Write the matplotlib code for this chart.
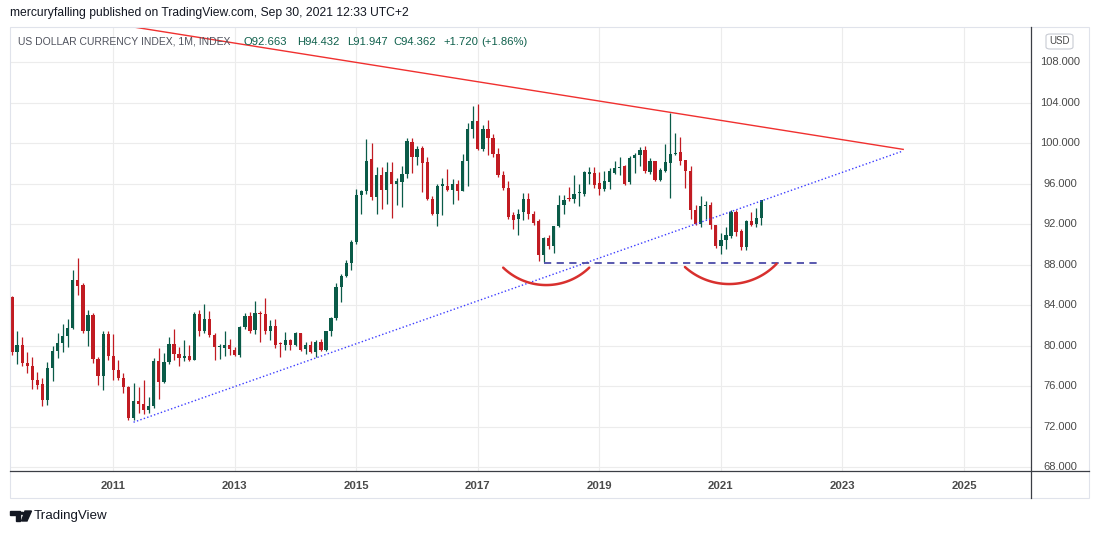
import numpy as np
import pandas as pd
import matplotlib
matplotlib.use('Agg')
import matplotlib.pyplot as plt
from matplotlib.patches import Rectangle, Circle, Polygon, FancyBboxPatch
from matplotlib.lines import Line2D

plt.rcParams['font.family'] = ['Liberation Sans', 'DejaVu Sans']

# monthly DXY candles, May 2009 .. Sep 2021
months = pd.date_range('2009-05-01', periods=149, freq='MS')

opens = [
    84.8, 79.4, 80.1, 78.3, 78.05, 76.6, 76.2, 74.6,
    77.8, 79.5, 80.3, 81.0, 81.8, 86.5, 86.0, 81.5, 83.0, 78.7, 77.0, 81.2,
    79.0, 77.6, 76.8, 75.9, 72.9, 74.5, 74.3, 73.7, 74.05, 78.5, 76.4, 78.4,
    80.2, 79.2, 78.8, 79.0, 78.6, 83.1, 81.5, 82.6, 81.1, 79.85, 79.75, 80.1,
    79.6, 79.1, 81.9, 82.9, 81.6, 83.2, 83.1, 81.5, 82.0, 80.3, 80.1, 80.55,
    80.05, 81.27, 79.7, 80.05, 79.4, 80.4, 79.6, 81.47, 82.7, 85.8, 86.9, 88.2,
    90.25, 94.86, 95.3, 98.4, 94.7, 96.84, 95.4, 97.2, 95.95, 96.2, 96.94, 100.1,
    98.65, 99.54, 98.2, 94.5, 93.0, 95.75, 95.8, 95.36, 95.95, 95.3, 98.3, 101.45,
    102.2, 99.4, 101.4, 100.5, 98.9, 96.84, 95.6, 92.9, 92.5, 93.2, 94.53, 93.0,
    92.3, 89.0, 90.65, 89.86, 91.8, 93.88, 94.55, 94.54, 95.1, 94.96, 96.97, 97.1,
    96.1, 95.46, 96.18, 97.1, 97.6, 97.73, 96.18, 98.55, 98.8, 99.37, 97.17, 98.22,
    96.4, 97.27, 98.06, 98.9, 99.14, 98.32, 97.27, 93.45, 92.07, 93.78, 93.88, 91.9,
    89.83, 90.4, 90.8, 93.22, 91.34, 89.76, 92.33, 92.07, 92.663,
]
highs = [
    84.9, 81.5, 80.9, 79.4, 78.9, 77.4, 76.8, 78.4,
    80.0, 81.3, 82.2, 82.6, 87.5, 88.7, 86.2, 83.5, 83.2, 78.9, 81.5, 81.5,
    81.2, 78.6, 77.3, 76.0, 76.3, 75.9, 76.6, 74.9, 78.8, 79.8, 79.3, 80.9,
    81.7, 79.9, 80.6, 80.1, 83.3, 83.5, 84.1, 83.4, 81.3, 80.2, 81.5, 80.7,
    79.9, 82.0, 83.2, 83.3, 84.4, 83.4, 84.7, 82.5, 82.6, 80.4, 81.4, 80.7,
    81.4, 81.3, 80.4, 80.45, 80.55, 80.7, 81.5, 82.8, 86.2, 87.1, 88.5, 90.4,
    95.5, 95.4, 100.4, 100.0, 97.7, 97.7, 98.2, 98.15, 96.6, 97.8, 100.5, 100.5,
    99.7, 99.7, 98.6, 94.8, 95.95, 96.6, 97.5, 96.5, 96.4, 98.9, 102.0, 103.65,
    103.85, 101.8, 102.3, 100.95, 99.5, 97.3, 96.3, 93.2, 93.55, 95.1, 95.1, 93.3,
    92.56, 90.7, 90.9, 91.84, 94.93, 94.93, 95.69, 96.9, 96.0, 97.3, 97.7, 97.7,
    97.2, 97.3, 97.6, 98.3, 98.65, 97.9, 98.7, 99.0, 99.64, 99.7, 98.5, 98.3,
    97.6, 99.97, 103.0, 101.0, 100.65, 98.35, 97.8, 93.9, 94.8, 94.3, 94.2, 91.95,
    91.1, 91.7, 93.4, 93.4, 91.5, 92.4, 93.2, 93.65, 94.432,
]
lows = [
    79.1, 78.2, 78.0, 77.3, 75.7, 75.7, 74.1, 74.2,
    76.5, 78.8, 79.4, 79.9, 81.7, 85.0, 81.3, 80.0, 78.3, 76.1, 75.6, 78.6,
    76.6, 76.6, 75.3, 72.7, 72.7, 73.35, 73.3, 73.4, 73.9, 74.7, 76.35, 78.2,
    78.6, 78.0, 78.5, 78.5, 78.6, 81.0, 81.3, 80.9, 78.6, 78.7, 79.0, 79.1,
    79.0, 78.9, 81.7, 81.3, 81.2, 80.4, 81.2, 80.6, 79.8, 78.9, 79.6, 79.6,
    80.0, 79.5, 79.2, 79.3, 78.85, 79.5, 79.5, 81.0, 82.5, 84.3, 86.8, 87.5,
    90.1, 93.05, 95.0, 94.4, 93.05, 93.55, 94.0, 92.6, 93.9, 93.7, 96.6, 97.07,
    97.9, 95.2, 94.4, 92.9, 91.8, 92.9, 95.3, 94.05, 94.4, 95.3, 95.75, 100.5,
    99.3, 99.2, 98.8, 98.65, 96.7, 95.4, 92.55, 91.57, 90.9, 92.4, 92.5, 91.9,
    88.4, 88.25, 89.6, 89.2, 91.75, 93.05, 94.27, 94.1, 93.8, 94.8, 96.0, 95.6,
    94.87, 95.26, 95.5, 97.0, 96.9, 95.85, 96.0, 97.1, 97.8, 97.1, 97.0, 96.3,
    96.3, 97.2, 94.6, 98.8, 97.9, 95.6, 92.5, 91.9, 91.75, 92.5, 91.5, 89.7,
    89.1, 89.6, 90.6, 90.85, 89.5, 89.5, 91.8, 91.74, 91.947,
]
closes = [
    79.4, 80.1, 78.3, 78.05, 76.6, 76.1, 74.6, 77.8,
    79.5, 80.3, 81.0, 81.8, 86.5, 85.9, 81.5, 83.0, 78.7, 77.0, 81.2, 79.0,
    77.6, 76.8, 75.9, 72.9, 74.5, 74.3, 73.7, 74.05, 78.5, 76.4, 78.4, 80.2,
    79.2, 78.8, 79.0, 78.6, 83.1, 81.5, 82.6, 81.1, 79.9, 80.0, 80.05, 79.7,
    79.1, 81.9, 82.9, 81.5, 83.2, 83.1, 81.5, 82.0, 80.1, 80.2, 80.55, 80.05,
    81.27, 79.6, 80.05, 79.4, 80.4, 79.6, 81.47, 82.7, 85.8, 86.9, 88.2, 90.25,
    94.86, 95.3, 98.3, 94.7, 96.84, 95.4, 97.2, 95.95, 96.25, 96.94, 100.23, 98.65,
    99.47, 98.09, 94.5, 93.0, 95.75, 95.95, 95.36, 95.95, 95.3, 98.3, 101.45, 102.2,
    99.4, 101.4, 100.5, 98.9, 96.84, 95.55, 92.72, 92.4, 93.05, 94.53, 93.05, 92.16,
    89.0, 90.65, 89.86, 91.8, 93.94, 94.44, 94.45, 95.03, 95.2, 97.17, 97.2, 95.92,
    95.46, 96.25, 97.23, 97.56, 97.7, 96.02, 98.55, 98.8, 99.37, 97.24, 98.22, 96.4,
    97.33, 98.16, 98.91, 99.04, 98.22, 97.27, 93.38, 92.07, 93.78, 93.9, 91.9, 89.83,
    90.48, 90.9, 93.22, 91.24, 89.76, 92.33, 91.97, 92.642, 94.362,
]

price_ticks = [68, 72, 76, 80, 84, 88, 92, 96, 100, 104, 108]
year_labels = [2011, 2013, 2015, 2017, 2019, 2021, 2023, 2025]

# drawings on the chart: (month index from May 2009, price)
resistance = [(15, 112.2), (176, 99.4)]
support = [(24, 72.45), (176, 99.25)]
neckline = [(105, 88.2), (160, 88.2)]
cup_left = [(97.0, 87.72), (105.3, 86.0), (114.0, 87.72)]
cup_right = [(132.9, 87.78), (141.8, 86.1), (151.0, 88.1)]

UP = '#0a5b48'
DOWN = '#c11b22'
W, H = 1100, 534


def fx(px):
    return px / W


def fy(py):
    return 1 - py / H


fig = plt.figure(figsize=(W / 100, H / 100), dpi=100)
fig.patch.set_facecolor('white')

# chart pane: x 10..1030.7, y 27..471 (pixels)
ax = fig.add_axes([fx(10), fy(471), (1030.7 - 10) / W, 444 / H])
xlim = (-0.395, 201.18)
ylim = (67.634, 111.486)
ax.set_xlim(*xlim)
ax.set_ylim(*ylim)
for s in ax.spines.values():
    s.set_visible(False)

x = np.arange(len(months))
o = np.array(opens)
c = np.array(closes)
colors = np.where(c >= o, UP, DOWN)

ax.vlines(x, lows, highs, colors=colors, linewidth=0.9, zorder=3)
body_low = np.minimum(o, c)
body_h = np.maximum(np.abs(c - o), 0.1)
ax.bar(x, body_h, bottom=body_low, width=0.64, color=colors, linewidth=0, zorder=4)

# grid
year_pos = [(y - 2009) * 12 - 4 for y in year_labels]
ax.set_xticks(year_pos, [str(y) for y in year_labels])
ax.set_yticks(price_ticks)
ax.grid(True, color='#ececec', linewidth=0.8, zorder=0)
ax.tick_params(axis='y', left=False, labelleft=False)
ax.tick_params(axis='x', length=0, pad=7, labelsize=8.2, labelcolor='#4a4a4a')
for lab in ax.get_xticklabels():
    lab.set_fontweight('bold')

# trend lines
ax.plot(*zip(*resistance), color='#f0302f', linewidth=1.0, zorder=5)
ax.plot(*zip(*support), color='#3d3dff', linewidth=1.0, linestyle=(0, (1, 1.6)), zorder=5)
ax.plot(*zip(*neckline), color='#4b4ba8', linewidth=1.3, linestyle=(0, (4, 3)), zorder=5)

# cup arcs, circular in screen space
sx = (1030.7 - 10) / (xlim[1] - xlim[0])
sy = 444 / (ylim[1] - ylim[0])


def draw_arc(pts):
    (x1, y1), (x2, y2), (x3, y3) = [(px * sx, py * sy) for px, py in pts]
    a = 2 * np.array([[x2 - x1, y2 - y1], [x3 - x1, y3 - y1]])
    b = np.array([x2**2 - x1**2 + y2**2 - y1**2, x3**2 - x1**2 + y3**2 - y1**2])
    cx, cy = np.linalg.solve(a, b)
    r = np.hypot(x1 - cx, y1 - cy)
    t = np.linspace(np.arctan2(y1 - cy, x1 - cx), np.arctan2(y3 - cy, x3 - cx), 80)
    ax.plot((cx + r * np.cos(t)) / sx, (cy + r * np.sin(t)) / sy,
            color='#d8302e', linewidth=1.8, solid_capstyle='round', zorder=5)


draw_arc(cup_left)
draw_arc(cup_right)

# price scale
pax = fig.add_axes([fx(1031), fy(471), 58 / W, 444 / H])
pax.set_ylim(*ylim)
pax.axis('off')
for v in price_ticks:
    t = pax.text(0.5, v, f'{v:.3f}', transform=pax.get_yaxis_transform(),
                 ha='center', va='center', fontsize=8, color='#4a4a4a', clip_on=True)
    t.set_clip_box(pax.bbox)

fig.patches.append(FancyBboxPatch((fx(1046), fy(49)), 27 / W, 15 / H,
                                  boxstyle='round,pad=0,rounding_size=0.004',
                                  transform=fig.transFigure, facecolor='white',
                                  edgecolor='#c8cbd3', linewidth=0.8))
fig.text(fx(1059.5), fy(41.5), 'USD', ha='center', va='center', fontsize=7, color='#4a4a4a')

# frame lines
fig.patches.append(Rectangle((fx(10), fy(498)), 1079 / W, 471 / H, transform=fig.transFigure,
                             fill=False, edgecolor='#e0e3eb', linewidth=0.8))
fig.add_artist(Line2D([fx(1030.7)] * 2, [fy(27), fy(498)], color='#3b3e45', linewidth=0.9))
fig.add_artist(Line2D([fx(10), fx(1089)], [fy(471)] * 2, color='#3b3e45', linewidth=0.9))

# header and legend
fig.text(fx(10), fy(13), 'mercuryfalling published on TradingView.com, Sep 30, 2021 12:33 UTC+2',
         ha='left', va='center', fontsize=8.7, color='#131722')
fig.text(fx(18), fy(42), 'US DOLLAR CURRENCY INDEX, 1M, INDEX', ha='left', va='center',
         fontsize=7.5, color='#50535e', zorder=10)
chg = closes[-1] - closes[-2]
legend_parts = [
    (243.3, f'O{opens[-1]:.3f}'),
    (296.7, f'H{highs[-1]:.3f}'),
    (346.7, f'L{lows[-1]:.3f}'),
    (393.3, f'C{closes[-1]:.3f}'),
    (443.3, f'+{chg:.3f}'),
    (481.7, f'(+{chg / closes[-2] * 100:.2f}%)'),
]
for px, s in legend_parts:
    fig.text(fx(px), fy(42), s, ha='left', va='center', fontsize=8.1, color='#0f604c', zorder=10)

# TradingView logo
logo_color = '#131722'
fig.patches.append(Polygon([(fx(10), fy(511)), (fx(20), fy(511)), (fx(20), fy(521)),
                            (fx(15.5), fy(521)), (fx(15.5), fy(514.5)), (fx(10), fy(514.5))],
                           closed=True, transform=fig.transFigure, color=logo_color))
fig.patches.append(Polygon([(fx(25), fy(511)), (fx(31.5), fy(511)), (fx(27), fy(521)),
                            (fx(21.5), fy(521))],
                           closed=True, transform=fig.transFigure, color=logo_color))
fig.patches.append(Circle((fx(22.3), fy(513.3)), 1.9 / W, transform=fig.transFigure,
                          color=logo_color))
fig.text(fx(33.5), fy(516.5), 'TradingView', ha='left', va='center', fontsize=9.6,
         color=logo_color)

fig.savefig('out.png', dpi=100, facecolor='white')
